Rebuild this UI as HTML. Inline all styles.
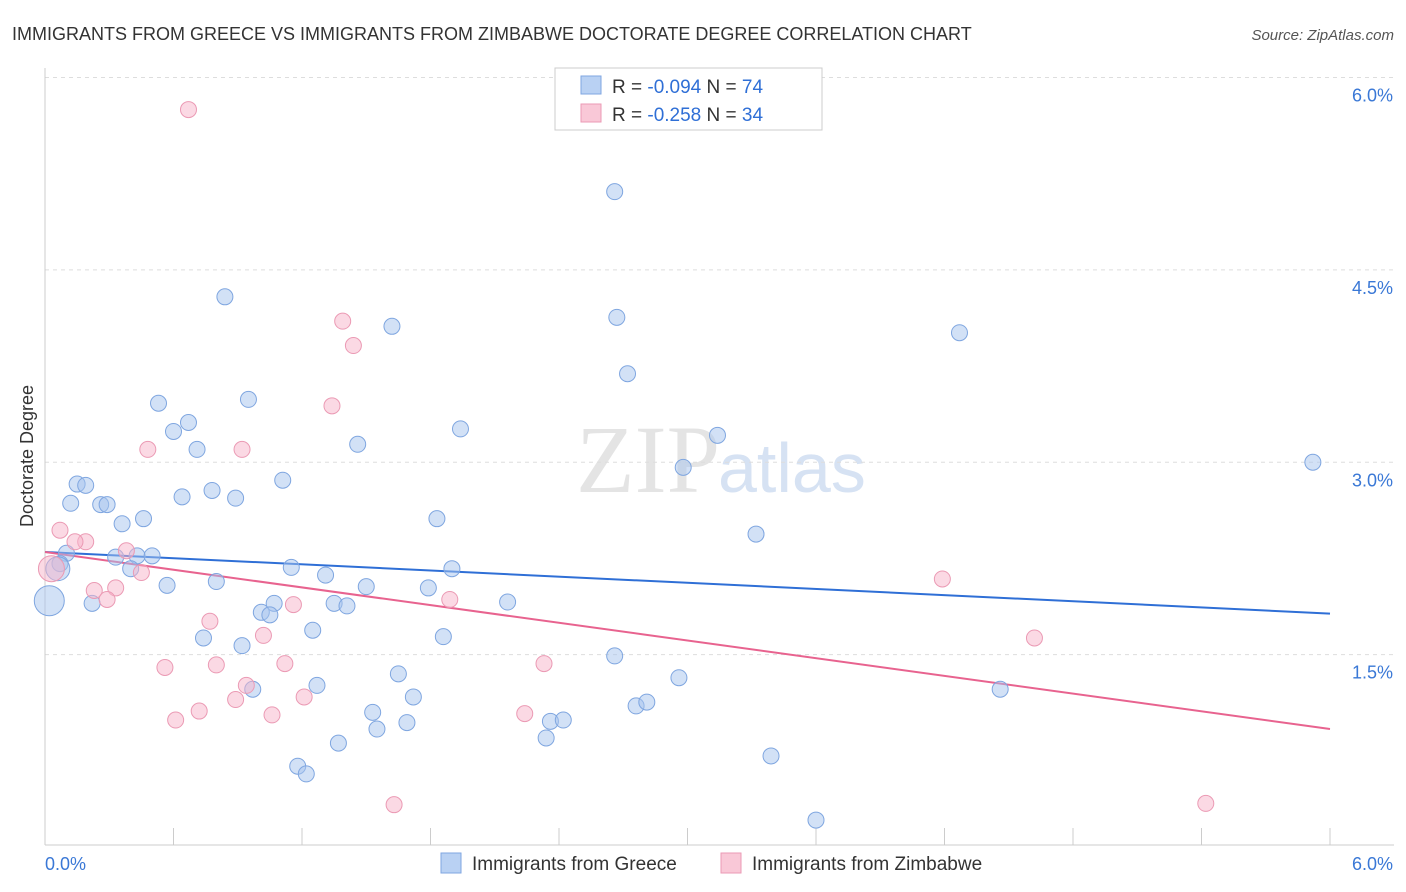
<!DOCTYPE html>
<html><head><meta charset="utf-8"><style>
body{margin:0;background:#fff;font-family:"Liberation Sans",sans-serif;}
svg{display:block}
</style></head><body>
<svg id="chart" width="1406" height="892">
<text x="12" y="40" font-size="18" fill="#333">IMMIGRANTS FROM GREECE VS IMMIGRANTS FROM ZIMBABWE DOCTORATE DEGREE CORRELATION CHART</text>
<text x="1394" y="40" font-size="15" fill="#555" font-style="italic" text-anchor="end">Source: ZipAtlas.com</text>
<text x="720" y="492" font-size="96" fill="#e4e4e4" text-anchor="end" font-family="Liberation Serif,serif">ZIP</text>
<text x="718" y="492" font-size="70" fill="#d6e2f3">atlas</text>
<text transform="translate(33,456) rotate(-90)" font-size="18" fill="#333" text-anchor="middle">Doctorate Degree</text>
<g id="grid"></g><g id="trend"></g><g id="pts"></g>
<g>
<rect x="555" y="68" width="267" height="62" fill="#fff" stroke="#ccc"/>
<rect x="581" y="76" width="20" height="18" fill="#b9d1f3" stroke="#7fa6e0"/>
<rect x="581" y="104" width="20" height="18" fill="#f9c8d7" stroke="#eb9ab4"/>
<text x="612" y="93" font-size="19" fill="#333">R = <tspan fill="#2f6fd6">-0.094</tspan>   N = <tspan fill="#2f6fd6">74</tspan></text>
<text x="612" y="121" font-size="19" fill="#333">R = <tspan fill="#2f6fd6"> -0.258</tspan>   N = <tspan fill="#2f6fd6">34</tspan></text>
</g>
<g>
<rect x="441" y="853" width="20" height="20" fill="#b9d1f3" stroke="#7fa6e0"/>
<text x="472" y="870" font-size="19" fill="#333">Immigrants from Greece</text>
<rect x="721" y="853" width="20" height="20" fill="#f9c8d7" stroke="#eb9ab4"/>
<text x="752" y="870" font-size="19" fill="#333">Immigrants from Zimbabwe</text>
</g>
</svg>
<script>
const xTicks=[0,0.6,1.2,1.8,2.4,3.0,3.6,4.2,4.8,5.4,6.0];
const yTicks=[1.5,3.0,4.5,6.0];
const yTickLabels=["1.5%","3.0%","4.5%","6.0%"];
const greeceX=[2.66,0.84,1.62,2.67,4.27,2.72,0.95,0.53,0.67,0.60,1.94,1.46,0.71,3.14,2.98,5.92,1.11,0.15,0.19,0.78,0.64,0.89,0.12,0.26,0.29,0.46,0.36,1.83,3.32,0.10,0.33,0.43,0.50,1.15,1.90,0.40,0.07,1.31,0.80,0.57,1.50,1.79,2.16,0.22,1.07,1.35,1.41,1.01,1.05,1.25,1.86,0.74,0.92,2.66,1.65,2.96,1.27,0.97,4.46,1.72,2.76,2.81,1.53,1.69,2.36,2.42,1.55,2.34,1.37,3.39,1.18,1.22,3.60,0.02,0.06];
const greeceY=[5.11,4.29,4.06,4.13,4.01,3.69,3.49,3.46,3.31,3.24,3.26,3.14,3.10,3.21,2.96,3.00,2.86,2.83,2.82,2.78,2.73,2.72,2.68,2.67,2.67,2.56,2.52,2.56,2.44,2.29,2.26,2.27,2.27,2.18,2.17,2.17,2.21,2.12,2.07,2.04,2.03,2.02,1.91,1.90,1.90,1.90,1.88,1.83,1.81,1.69,1.64,1.63,1.57,1.49,1.35,1.32,1.26,1.23,1.23,1.17,1.10,1.13,1.05,0.97,0.98,0.99,0.92,0.85,0.81,0.71,0.63,0.57,0.21,1.92,2.17];
const greeceR=[8,8,8,8,8,8,8,8,8,8,8,8,8,8,8,8,8,8,8,8,8,8,8,8,8,8,8,8,8,8,8,8,8,8,8,8,8,8,8,8,8,8,8,8,8,8,8,8,8,8,8,8,8,8,8,8,8,8,8,8,8,8,8,8,8,8,8,8,8,8,8,8,8,15,12];
const zimX=[0.67,1.39,1.44,1.34,0.48,0.92,0.07,0.19,0.14,0.38,0.45,0.23,0.33,0.29,1.16,1.89,0.77,1.02,0.56,0.80,1.12,2.33,0.94,0.89,1.21,0.72,0.61,1.06,2.24,1.63,4.19,4.62,5.42,0.03];
const zimY=[5.75,4.10,3.91,3.44,3.10,3.10,2.47,2.38,2.38,2.31,2.14,2.00,2.02,1.93,1.89,1.93,1.76,1.65,1.40,1.42,1.43,1.43,1.26,1.15,1.17,1.06,0.99,1.03,1.04,0.33,2.09,1.63,0.34,2.17];
const zimR=[8,8,8,8,8,8,8,8,8,8,8,8,8,8,8,8,8,8,8,8,8,8,8,8,8,8,8,8,8,8,8,8,8,13];
const trendGreece=[2.30,1.82];
const trendZim=[2.30,0.92];
const X=v=>45+v/6*1285, Y=v=>847-v*128.25;
const NS="http://www.w3.org/2000/svg";
function mk(t,a,p){const e=document.createElementNS(NS,t);for(const k in a)e.setAttribute(k,a[k]);p.appendChild(e);return e;}
const g=document.getElementById('grid');
yTicks.forEach((v,i)=>{
 const l=mk('line',{x1:45,x2:1394,y1:Y(v),y2:Y(v),stroke:'#ddd','stroke-dasharray':'4,4'},g);
 
 
 const t=mk('text',{x:1393,y:Y(v)+24,'font-size':18,fill:'#3a78d6','text-anchor':'end'},g);
 t.textContent=yTickLabels[i];
 
 
});
const ax=mk('line',{x1:45,x2:45,y1:68,y2:845,stroke:'#ccc'},g);


const bx=mk('line',{x1:45,x2:1394,y1:845,y2:845,stroke:'#ccc'},g);


xTicks.forEach(v=>{
 const l=mk('line',{x1:X(v),x2:X(v),y1:828,y2:845,stroke:'#ccc'},g);
 
 
});
[[0,"0.0%","start"],[6,"6.0%","end"]].forEach(([v,s,a])=>{
 const t=mk('text',{x:v?1393:45,y:870,'font-size':18,fill:'#3a78d6','text-anchor':a},g);
 t.textContent=s;
 
 
});
const tr=document.getElementById('trend');
const l1=mk('line',{x1:X(0),y1:Y(trendGreece[0]),x2:X(6),y2:Y(trendGreece[1]),stroke:'#2f6fd6','stroke-width':2},tr);


const l2=mk('line',{x1:X(0),y1:Y(trendZim[0]),x2:X(6),y2:Y(trendZim[1]),stroke:'#e8638f','stroke-width':2},tr);


const p=document.getElementById('pts');
greeceX.forEach((v,i)=>{
 const c=mk('circle',{cx:X(v),cy:Y(greeceY[i]),r:greeceR[i],fill:'rgba(165,195,238,0.5)',stroke:'#7fa6e0','stroke-width':1},p);
 
 
});
zimX.forEach((v,i)=>{
 const c=mk('circle',{cx:X(v),cy:Y(zimY[i]),r:zimR[i],fill:'rgba(247,180,202,0.5)',stroke:'#eb9ab4','stroke-width':1},p);
 
 
});
</script>
</body></html>
